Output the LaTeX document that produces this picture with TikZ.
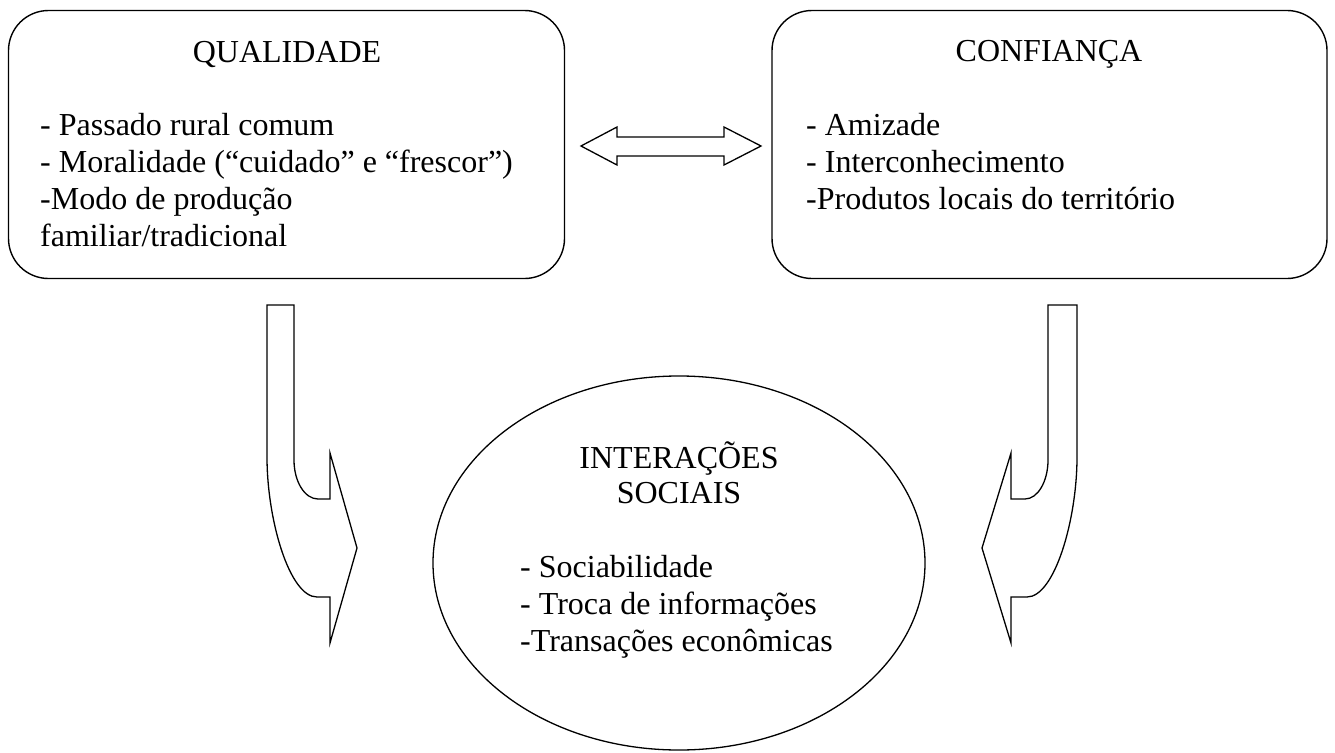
\documentclass[tikz,border=0pt]{standalone}
\usepackage{fontspec}
\setmainfont{Liberation Serif}
\usetikzlibrary{shapes.geometric}
\begin{document}
\begin{tikzpicture}[x=1pt,y=-1pt,
  panel/.style={draw, rounded corners=40pt, line width=1.4pt, inner sep=0pt},
  oval/.style={draw, ellipse, line width=1.3pt, inner sep=0pt},
  txt/.style={font=\fontsize{32}{37}\selectfont, inner sep=0pt},
  blockarrow/.style={draw, line width=1.3pt, line join=miter}]
\useasboundingbox (0,0) rectangle (1335,752);

% boxes
\node[panel, minimum width=556pt, minimum height=268pt] (qual) at (286.5,144.5) {};
\node[panel, minimum width=555pt, minimum height=268pt] (conf) at (1049.5,144.5) {};
\node[oval, minimum width=492pt, minimum height=374pt] (inter) at (679,563) {};

% texts
\node[txt, anchor=base] (qualt) at (287,63) {QUALIDADE};
\node[txt, anchor=base west] (quall) at (40,135) {\begin{tabular}[t]{@{}l@{}}- Passado rural comum\\- Moralidade (“cuidado” e “frescor”)\\-Modo de produção\\familiar/tradicional\end{tabular}};

\node[txt, anchor=base] (conft) at (1049,62) {CONFIANÇA};
\node[txt, anchor=base west] (confl) at (806,135) {\begin{tabular}[t]{@{}l@{}}- Amizade\\- Interconhecimento\\-Produtos locais do território\end{tabular}};

\node[txt, anchor=base] (intert) at (679,468) {\begin{tabular}[t]{@{}c@{}}INTERAÇÕES\\[-2pt]SOCIAIS\end{tabular}};
\node[txt, anchor=base west] (interl) at (520,577) {\begin{tabular}[t]{@{}l@{}}- Sociabilidade\\- Troca de informações\\-Transações econômicas\end{tabular}};

% double arrow between boxes
\draw[blockarrow] (581,146) -- (617,127) -- (617,137) -- (724,137) -- (724,127)
  -- (761,146) -- (724,165) -- (724,156) -- (617,156) -- (617,165) -- cycle;

% left bent arrow
\draw[blockarrow] (267,305) -- (294,305) -- (294,460)
  .. controls (294,481.5) and (304.7,499) .. (318,499)
  -- (330,499) -- (330,453) -- (357,548) -- (330,643) -- (330,597) -- (317,597)
  .. controls (289.4,597) and (267,519.7) .. (267,457) -- cycle;

% right bent arrow
\draw[blockarrow] (1077,305) -- (1048,305) -- (1048,460)
  .. controls (1048,481.5) and (1037.7,499) .. (1025,499)
  -- (1011,499) -- (1011,453) -- (982,548) -- (1011,643) -- (1011,597) -- (1027,597)
  .. controls (1054.6,597) and (1077,519.7) .. (1077,457) -- cycle;
\end{tikzpicture}
\end{document}
